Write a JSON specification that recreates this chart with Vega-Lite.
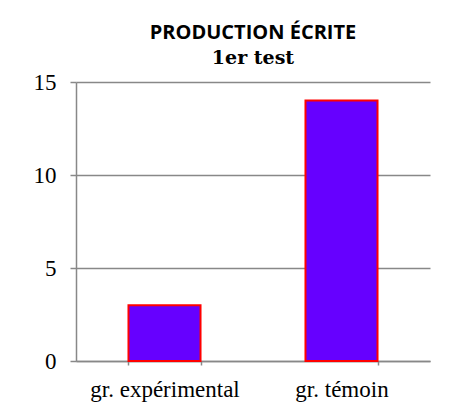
{
  "$schema": "https://vega.github.io/schema/vega-lite/v6.json",
  "autosize": "none",
  "width": 354,
  "height": 279,
  "padding": {"left": 76, "top": 82, "right": 32, "bottom": 44},
  "background": "white",
  "title": {
    "text": "PRODUCTION ÉCRITE",
    "subtitle": "1er test",
    "anchor": "middle",
    "offset": 3,
    "font": "Open Sans",
    "fontSize": 20,
    "fontWeight": "bold",
    "color": "black",
    "subtitleFont": "DejaVu Serif",
    "subtitleFontSize": 19,
    "subtitleFontWeight": "bold",
    "subtitleColor": "black",
    "subtitlePadding": 6
  },
  "data": {
    "values": [
      {"groupe": "gr. expérimental", "score": 3},
      {"groupe": "gr. témoin", "score": 14}
    ]
  },
  "mark": {"type": "bar", "color": "#6600FF", "stroke": "#FF0000", "strokeWidth": 2},
  "encoding": {
    "x": {
      "field": "groupe",
      "type": "nominal",
      "sort": null,
      "title": null,
      "scale": {"paddingInner": 0.593, "paddingOuter": 0.2965},
      "axis": {
        "labelAngle": 0,
        "labelFont": "Liberation Serif",
        "labelFontSize": 23,
        "labelColor": "black",
        "labelPadding": 13,
        "domainColor": "#888888",
        "domainWidth": 1.5,
        "tickColor": "#888888",
        "tickWidth": 1.5,
        "tickSize": 4,
        "tickBand": "extent",
        "grid": false
      }
    },
    "y": {
      "field": "score",
      "type": "quantitative",
      "title": null,
      "scale": {"domain": [0, 15], "nice": false},
      "axis": {
        "values": [0, 5, 10, 15],
        "labelFont": "Liberation Serif",
        "labelFontSize": 23,
        "labelColor": "black",
        "labelPadding": 14,
        "domainColor": "#888888",
        "domainWidth": 1.5,
        "tickColor": "#888888",
        "tickWidth": 1.5,
        "tickSize": 6,
        "grid": true,
        "gridColor": "#888888",
        "gridWidth": 1.5
      }
    }
  },
  "config": {"view": {"stroke": null}}
}
